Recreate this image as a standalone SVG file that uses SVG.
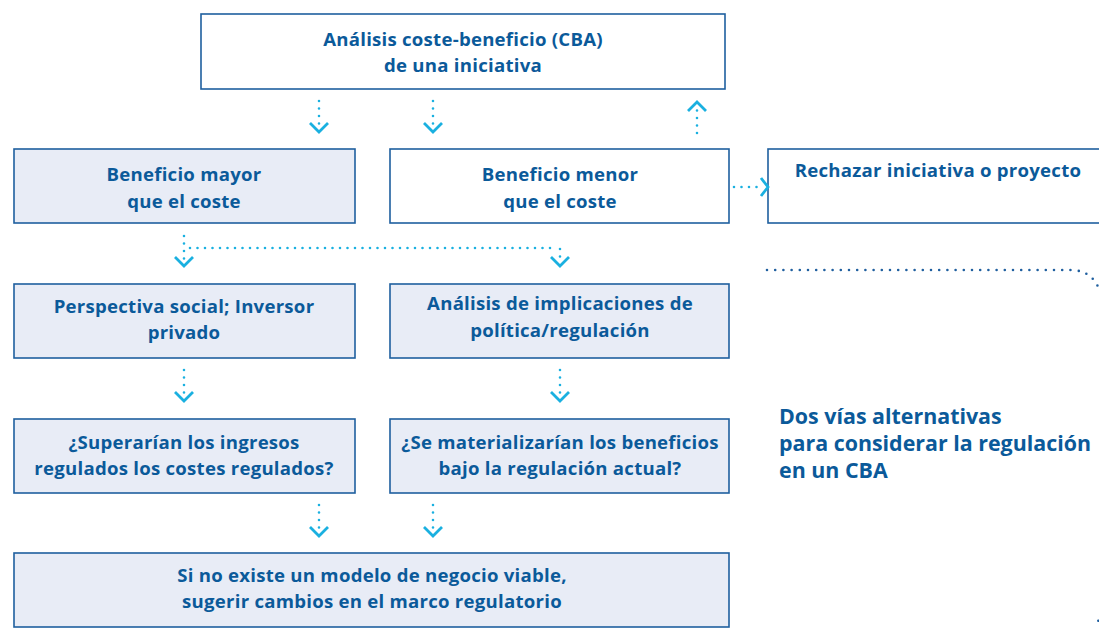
<svg xmlns="http://www.w3.org/2000/svg" width="1099" height="628" viewBox="0 0 1099 628">
<defs>
<style>
.box{stroke:#1f5f9f;stroke-width:1.6}
.w{fill:#ffffff}
.f{fill:#e8ecf6}
.t{font-family:"Open Sans","Liberation Sans",Arial,sans-serif;font-weight:bold;font-size:18.6px;letter-spacing:0.25px;fill:#0b5a9a;text-anchor:middle}
.side{font-family:"Open Sans","Liberation Sans",Arial,sans-serif;font-weight:bold;font-size:21.4px;fill:#0b5a9a}
.dot{fill:none;stroke:#1ab0e0;stroke-width:2.6;stroke-linecap:round;stroke-dasharray:0 7.5}
.head{fill:none;stroke:#1ab0e0;stroke-width:2.8;stroke-linejoin:miter}
.bdot{fill:none;stroke:#1f5f9f;stroke-width:2.6;stroke-linecap:round;stroke-dasharray:0 8.2}
</style>
</defs>
<rect width="1099" height="628" fill="#ffffff"/>
<g id="n-cba"><rect class="box w" x="201" y="14" width="524" height="75"/><text class="t" x="463" y="46">Análisis coste-beneficio (CBA)</text><text class="t" x="463" y="72">de una iniciativa</text></g>
<g id="n-mayor"><rect class="box f" x="14" y="149" width="341" height="74"/><text class="t" x="184" y="181">Beneficio mayor</text><text class="t" x="184" y="208">que el coste</text></g>
<g id="n-menor"><rect class="box w" x="390" y="149" width="339" height="74"/><text class="t" x="560" y="181">Beneficio menor</text><text class="t" x="560" y="208">que el coste</text></g>
<g id="n-rechazar"><rect class="box w" x="768" y="149" width="340" height="74"/><text class="t" x="938" y="177">Rechazar iniciativa o proyecto</text></g>
<g id="n-perspectiva"><rect class="box f" x="14" y="284" width="341" height="74"/><text class="t" x="184" y="313">Perspectiva social; Inversor</text><text class="t" x="184" y="339">privado</text></g>
<g id="n-analisis"><rect class="box f" x="390" y="284" width="339" height="74"/><text class="t" x="560" y="310">Análisis de implicaciones de</text><text class="t" x="560" y="337">política/regulación</text></g>
<g id="n-superarian"><rect class="box f" x="14" y="419" width="341" height="74"/><text class="t" x="184" y="449">¿Superarían los ingresos</text><text class="t" x="184" y="475">regulados los costes regulados?</text></g>
<g id="n-materializarian"><rect class="box f" x="390" y="419" width="339" height="74"/><text class="t" x="560" y="449">¿Se materializarían los beneficios</text><text class="t" x="560" y="475">bajo la regulación actual?</text></g>
<g id="n-modelo"><rect class="box f" x="14" y="553" width="715" height="74"/><text class="t" x="372" y="582">Si no existe un modelo de negocio viable,</text><text class="t" x="372" y="608">sugerir cambios en el marco regulatorio</text></g>
<g id="n-dosvias"><text class="side" x="779" y="424">Dos vías alternativas</text><text class="side" x="779" y="451">para considerar la regulación</text><text class="side" x="779" y="478">en un CBA</text></g>
<g id="connectors">
<path class="dot" d="M319,101 V128"/><path class="head" d="M310,123 L319,132 L328,123"/>
<path class="dot" d="M433,101 V128"/><path class="head" d="M424,123 L433,132 L442,123"/>
<path class="dot" d="M697,133 V108"/><path class="head" d="M688,111 L697,102 L706,111"/>
<path class="dot" d="M734,187 H763"/><path class="head" d="M761,178 L768,187 L761,196"/>
<path class="dot" d="M184,236 V262"/><path class="head" d="M175,257 L184,266 L193,257"/>
<path class="dot" d="M190,248 H556"/><path class="dot" d="M560,249 V262"/><path class="head" d="M551,257 L560,266 L569,257"/>
<path class="dot" d="M184,370 V396"/><path class="head" d="M175,392 L184,401 L193,392"/>
<path class="dot" d="M560,370 V396"/><path class="head" d="M551,392 L560,401 L569,392"/>
<path class="dot" d="M319,505 V531"/><path class="head" d="M310,527 L319,536 L328,527"/>
<path class="dot" d="M433,505 V531"/><path class="head" d="M424,527 L433,536 L442,527"/>
<path class="bdot" d="M767,270 H1070 Q1097,270 1102,300 V600 Q1100,620 1097,623"/>
</g>
</svg>
